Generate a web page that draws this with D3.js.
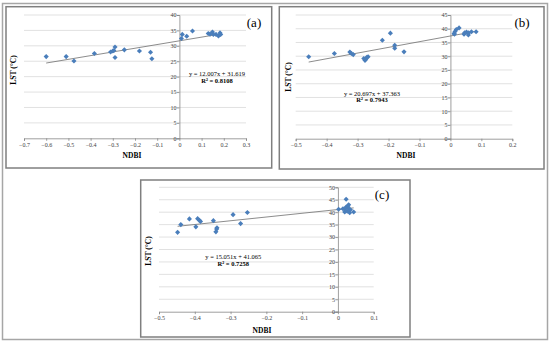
<!DOCTYPE html>
<html>
<head>
<meta charset="utf-8">
<script src="https://cdn.jsdelivr.net/npm/d3@7"></script>
<style>
	body { margin: 0; background: #fff; }
	svg { display: block; }
	text { font-family: "Liberation Serif", "Times New Roman", serif; }
</style>
</head>
<body>
<svg width="550" height="349"></svg>
<script>
// NDBI vs LST, three dates
var panelNames = ['(a)', '(b)', '(c)']

var ndbiA = [-0.60, -0.51, -0.475, -0.383, -0.31, -0.30, -0.295, -0.29, -0.29, -0.248, -0.18, -0.13, -0.124, 0.009, 0.013, 0.033, 0.059, 0.13, 0.138, 0.149, 0.153, 0.165, 0.176, 0.183, 0.186]
var lstA = [26.5, 26.5, 25.1, 27.5, 28.0, 28.3, 28.5, 29.6, 26.2, 28.7, 28.3, 27.9, 25.8, 32.4, 33.7, 33.1, 34.8, 34.0, 33.8, 34.5, 33.7, 33.7, 33.2, 34.2, 33.7]

var ndbiB = [-0.458, -0.375, -0.325, -0.32, -0.314, -0.28, -0.276, -0.274, -0.27, -0.266, -0.22, -0.194, -0.18, -0.18, -0.15, 0.012, 0.013, 0.015, 0.019, 0.028, 0.044, 0.046, 0.052, 0.058, 0.059, 0.068, 0.083]
var lstB = [29.8, 31.0, 31.5, 31.0, 30.6, 29.2, 28.5, 28.8, 29.6, 29.8, 35.8, 38.4, 34.0, 32.9, 31.6, 38.3, 38.0, 39.0, 39.7, 40.3, 38.0, 38.5, 38.8, 37.7, 38.5, 38.9, 38.9]

var ndbiC = [-0.448, -0.439, -0.415, -0.397, -0.392, -0.387, -0.384, -0.348, -0.341, -0.339, -0.338, -0.293, -0.272, -0.253, 0.002, 0.014, 0.019, 0.019, 0.023, 0.023, 0.026, 0.028, 0.030, 0.031, 0.033, 0.035, 0.044]
var lstC = [31.9, 35.0, 37.3, 34.1, 37.4, 36.7, 36.3, 36.6, 32.1, 33.2, 33.7, 39.0, 35.4, 39.9, 41.2, 41.4, 41.2, 40.1, 45.2, 42.1, 40.4, 42.5, 43.0, 41.4, 39.8, 41.0, 40.1]

var slopes = [12.007, 20.697, 15.051]
var intercepts = [31.619, 37.363, 41.065]
var r2 = ['0.8108', '0.7943', '0.7258']

var xTicksA = [-0.7, -0.6, -0.5, -0.4, -0.3, -0.2, -0.1, 0, 0.1, 0.2, 0.3]
var xTicksB = [-0.5, -0.4, -0.3, -0.2, -0.1, 0, 0.1, 0.2]
var xTicksC = [-0.5, -0.4, -0.3, -0.2, -0.1, 0, 0.1]
var yTicksA = [0, 5, 10, 15, 20, 25, 30, 35, 40]
var yTicksB = [0, 5, 10, 15, 20, 25, 30, 35, 40, 45]
var yTicksC = [0, 5, 10, 15, 20, 25, 30, 35, 40, 45, 50]

var svg = d3.select('svg')

// outer frame
svg.append('rect')
	.attr('x', 2.5).attr('y', 3.5).attr('width', 545).attr('height', 336)
	.attr('fill', 'none').attr('stroke', '#a6a6a6').attr('stroke-width', 1.5)

function makePanel(i, xs, ys, xTicks, yTicks, box, xr, yr, pos) {
	var g = svg.append('g')

	g.append('rect')
		.attr('x', box[0]).attr('y', box[1])
		.attr('width', box[2] - box[0]).attr('height', box[3] - box[1])
		.attr('fill', '#fff').attr('stroke', '#7f7f7f').attr('stroke-width', 1.5)

	var x = d3.scaleLinear().domain(d3.extent(xTicks)).range(xr)
	var y = d3.scaleLinear().domain(d3.extent(yTicks)).range(yr)

	// gridlines
	g.append('g').selectAll('line')
		.data(yTicks.filter(function(d) { return d != 0 }))
		.enter().append('line')
			.attr('x1', xr[0]).attr('x2', xr[1])
			.attr('y1', function(d) { return y(d) }).attr('y2', function(d) { return y(d) })
			.attr('stroke', '#d9d9d9').attr('stroke-width', 0.8)

	// x axis along y = 0, y axis along x = 0 (excel style)
	var fmt = function(d) { return d == 0 ? '0' : d3.format('.1f')(d) }
	var xAxis = d3.axisBottom(x).tickValues(xTicks).tickSize(2.5).tickFormat(fmt)
	var gx = g.append('g').attr('transform', 'translate(0,' + y(0) + ')').call(xAxis)
	var yAxis = d3.axisLeft(y).tickValues(yTicks).tickSize(2.5)
	var gy = g.append('g').attr('transform', 'translate(' + x(0) + ',0)').call(yAxis)

	;[gx, gy].forEach(function(a) {
		a.select('.domain').attr('stroke', '#868686').attr('stroke-width', 0.8)
		a.selectAll('.tick line').attr('stroke', '#868686').attr('stroke-width', 0.8)
		a.selectAll('.tick text')
			.attr('font-size', 6).attr('fill', '#404040')
	})
	gx.selectAll('.tick text').attr('dy', '0.9em').attr('y', 3)
	gy.selectAll('.tick text').attr('x', -3)

	// trendline over the data range
	var lo = d3.min(xs), hi = d3.max(xs)
	g.append('line')
		.attr('x1', x(lo)).attr('y1', y(slopes[i] * lo + intercepts[i]))
		.attr('x2', x(hi)).attr('y2', y(slopes[i] * hi + intercepts[i]))
		.attr('stroke', '#6e6e6e').attr('stroke-width', 0.8)

	var diamond = d3.symbol().type(d3.symbolSquare).size(13)
	g.append('g').selectAll('path')
		.data(xs)
		.enter().append('path')
			.attr('d', diamond)
			.attr('transform', function(d, k) { return 'translate(' + x(d) + ',' + y(ys[k]) + ') rotate(45)' })
			.attr('fill', '#4a7ebb')

	// labels
	g.append('text')
		.attr('x', pos.ndbi[0]).attr('y', pos.ndbi[1])
		.attr('text-anchor', 'middle').attr('font-size', 7.5).attr('font-weight', 'bold')
		.text('NDBI')
	g.append('text')
		.attr('transform', 'translate(' + pos.lst[0] + ',' + pos.lst[1] + ') rotate(-90)')
		.attr('text-anchor', 'middle').attr('font-size', 7.5).attr('font-weight', 'bold')
		.text('LST (°C)')
	g.append('text')
		.attr('x', pos.eq[0]).attr('y', pos.eq[1])
		.attr('text-anchor', 'middle').attr('font-size', 6.5)
		.text('y = ' + slopes[i] + 'x + ' + intercepts[i])
	g.append('text')
		.attr('x', pos.eq[0]).attr('y', pos.eq[1] + pos.gap)
		.attr('text-anchor', 'middle').attr('font-size', 6.5).attr('font-weight', 'bold')
		.text('R² = ' + r2[i])
	g.append('text')
		.attr('x', pos.name[0]).attr('y', pos.name[1])
		.attr('text-anchor', 'middle').attr('font-size', 13)
		.text(panelNames[i])
}

makePanel(0, ndbiA, lstA, xTicksA, yTicksA, [6, 6.7, 271.7, 168], [24, 246], [138.3, 15],
	{ ndbi: [132, 158], lst: [16, 70], eq: [217, 76], gap: 6.5, name: [254, 27] })
makePanel(1, ndbiB, lstB, xTicksB, yTicksB, [279.3, 6.7, 544, 169], [295.7, 512.3], [138.7, 15],
	{ ndbi: [406, 158], lst: [291, 77], eq: [372, 95.5], gap: 6.5, name: [522, 27] })
makePanel(2, ndbiC, lstC, xTicksC, yTicksC, [140.7, 180, 410, 337], [159, 373.7], [311.7, 187.3],
	{ ndbi: [262, 333], lst: [151, 251], eq: [233.3, 258.5], gap: 7.5, name: [382, 198.5] })
</script>
</body>
</html>
